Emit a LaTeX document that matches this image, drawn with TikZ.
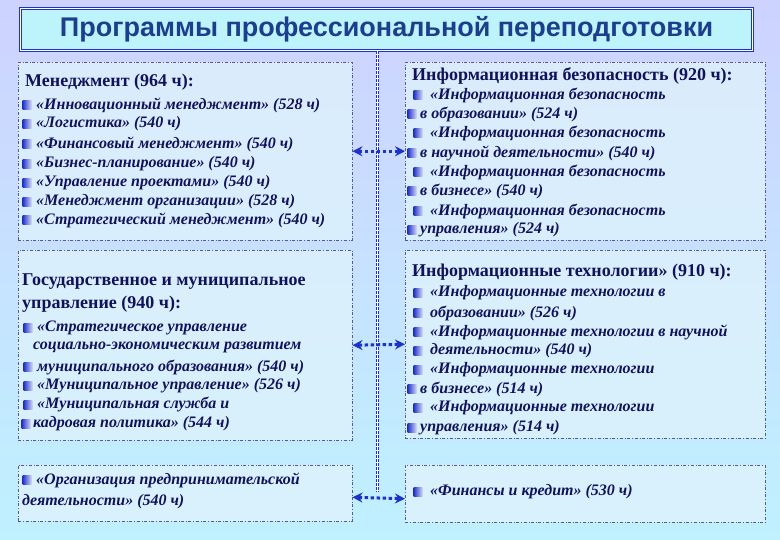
\documentclass[tikz,border=0pt]{standalone}
\usepackage{fontspec}
\setmainfont{Liberation Serif}
\setsansfont{Liberation Sans}
\usetikzlibrary{arrows.meta,shadings}
\definecolor{ink}{RGB}{18,18,90}
\definecolor{ttl}{RGB}{28,62,140}
\definecolor{bx}{RGB}{222,242,252}
\definecolor{bl}{RGB}{30,50,200}
\tikzset{
 panel/.style={draw=ink!70,dash dot,line width=0.5pt,fill=bx,fill opacity=0.8,text opacity=1,anchor=north west,inner sep=0pt},
 hd/.style={anchor=west,text=ink,font=\fontsize{18}{18}\selectfont\bfseries,inner sep=0pt},
 it/.style={anchor=west,text=ink,font=\fontsize{16}{16}\selectfont\bfseries\itshape,inner sep=0pt},
 bul/.style={minimum size=9pt,inner sep=0pt,left color=bl,right color=white!80!bl,draw=none},
 link/.style={{Stealth[length=10pt,width=10pt]}-{Stealth[length=10pt,width=10pt]},draw=bl,line width=3pt,dash pattern=on 3.5pt off 2.5pt},
}
\begin{document}
\begin{tikzpicture}[x=1pt,y=-1pt]
\useasboundingbox (0,0) rectangle (780,540);
\shade[top color=white!75!cyan!30!blue!25,bottom color=blue!22!cyan!25] (0,0) rectangle (780,540);
% title
\node[draw=bl,double=white,double distance=1.2pt,line width=1pt,fill=bx!85!cyan,anchor=north west,minimum width=732pt,minimum height=42pt,inner sep=0pt,text=ttl,font=\sffamily\bfseries\fontsize{27}{27}\selectfont] (title) at (20,8) {Программы профессиональной переподготовки};
% panels
\node[panel,minimum width=334pt,minimum height=178pt] (L1) at (18,62) {};
\node[panel,minimum width=360pt,minimum height=178pt] (R1) at (405,62) {};
\node[panel,minimum width=334pt,minimum height=190pt] (L2) at (18,250) {};
\node[panel,minimum width=360pt,minimum height=188pt] (R2) at (405,250) {};
\node[panel,minimum width=334pt,minimum height=56pt] (L3) at (18,465) {};
\node[panel,minimum width=360pt,minimum height=57pt] (R3) at (405,465) {};
% spine
\coordinate (sp) at (377,492);
\draw[white,line width=3pt] ([xshift=-9pt]title.south) -- ([xshift=-9pt]title.south |- sp);
\draw[bl,double=white,double distance=1.6pt,line width=0.6pt,dash pattern=on 3pt off 1pt] ([xshift=-9pt]title.south) -- ([xshift=-9pt]title.south |- sp);
% links
\draw[link] (L1.east) -- (R1.west);
\draw[link] (L2.east) -- (R2.west);
\draw[link] ([yshift=-4pt]L3.east) -- ([yshift=-5pt]R3.west);
% L1
\node[hd] (l1h) at (25,82) {Менеджмент (964 ч):};
\foreach \y/\t [count=\i] in {105/«Инновационный менеджмент» (528 ч),124/«Логистика» (540 ч),144/«Финансовый менеджмент» (540 ч),164/«Бизнес-планирование» (540 ч),183/«Управление проектами» (540 ч),202/«Менеджмент организации» (528 ч),220/«Стратегический менеджмент» (540 ч)}{
 \node[bul] (l1b\i) at (27,\y) {}; \node[it] (l1t\i) at (36,\y) {\t};}
% R1
\node[hd] (r1h) at (412,76) {Информационная безопасность (920 ч):};
\foreach \y/\x/\bx/\t [count=\i] in {95/430/418/«Информационная безопасность,114/420/412/в образовании» (524 ч),133/430/418/«Информационная безопасность,153/420/412/в научной деятельности» (540 ч),172/430/418/«Информационная безопасность,191/420/412/в бизнесе» (540 ч),211/430/418/«Информационная безопасность,230/420/412/управления» (524 ч)}{
 \node[bul] (r1b\i) at (\bx,\y) {}; \node[it] (r1t\i) at (\x,\y) {\t};}
% L2
\node[hd] (l2h1) at (22,282) {Государственное и муниципальное};
\node[hd] (l2h2) at (22,304) {управление (940 ч):};
\foreach \y/\t [count=\i] in {328/«Стратегическое управление,367/муниципального образования» (540 ч),386/«Муниципальное управление» (526 ч),405/«Муниципальная служба и}{
 \node[bul] (l2b\i) at (28,\y) {}; \node[it] (l2t\i) at (37,\y) {\t};}
\node[it] (l2x1) at (33,347) {социально-экономическим развитием};
\node[bul] (l2b5) at (26,424) {}; \node[it] (l2x2) at (33,424) {кадровая политика» (544 ч)};
% R2
\node[hd] (r2h) at (412,272) {Информационные технологии» (910 ч):};
\foreach \y/\x/\bx/\t [count=\i] in {293/430/418/«Информационные технологии в,313/430/418/образовании» (526 ч),332/430/418/«Информационные технологии в научной,351/430/418/деятельности» (540 ч),370/430/418/«Информационные технологии,389/420/412/в бизнесе» (514 ч),408/430/418/«Информационные технологии,428/420/412/управления» (514 ч)}{
 \node[bul] (r2b\i) at (\bx,\y) {}; \node[it] (r2t\i) at (\x,\y) {\t};}
% L3
\node[bul] (l3b) at (27,480) {}; \node[it] (l3t1) at (36,480) {«Организация предпринимательской};
\node[it] (l3t2) at (22,502) {деятельности» (540 ч)};
% R3
\node[bul] (r3b) at (418,492) {}; \node[it] (r3t) at (430,492) {«Финансы и кредит» (530 ч)};
\end{tikzpicture}
\end{document}
